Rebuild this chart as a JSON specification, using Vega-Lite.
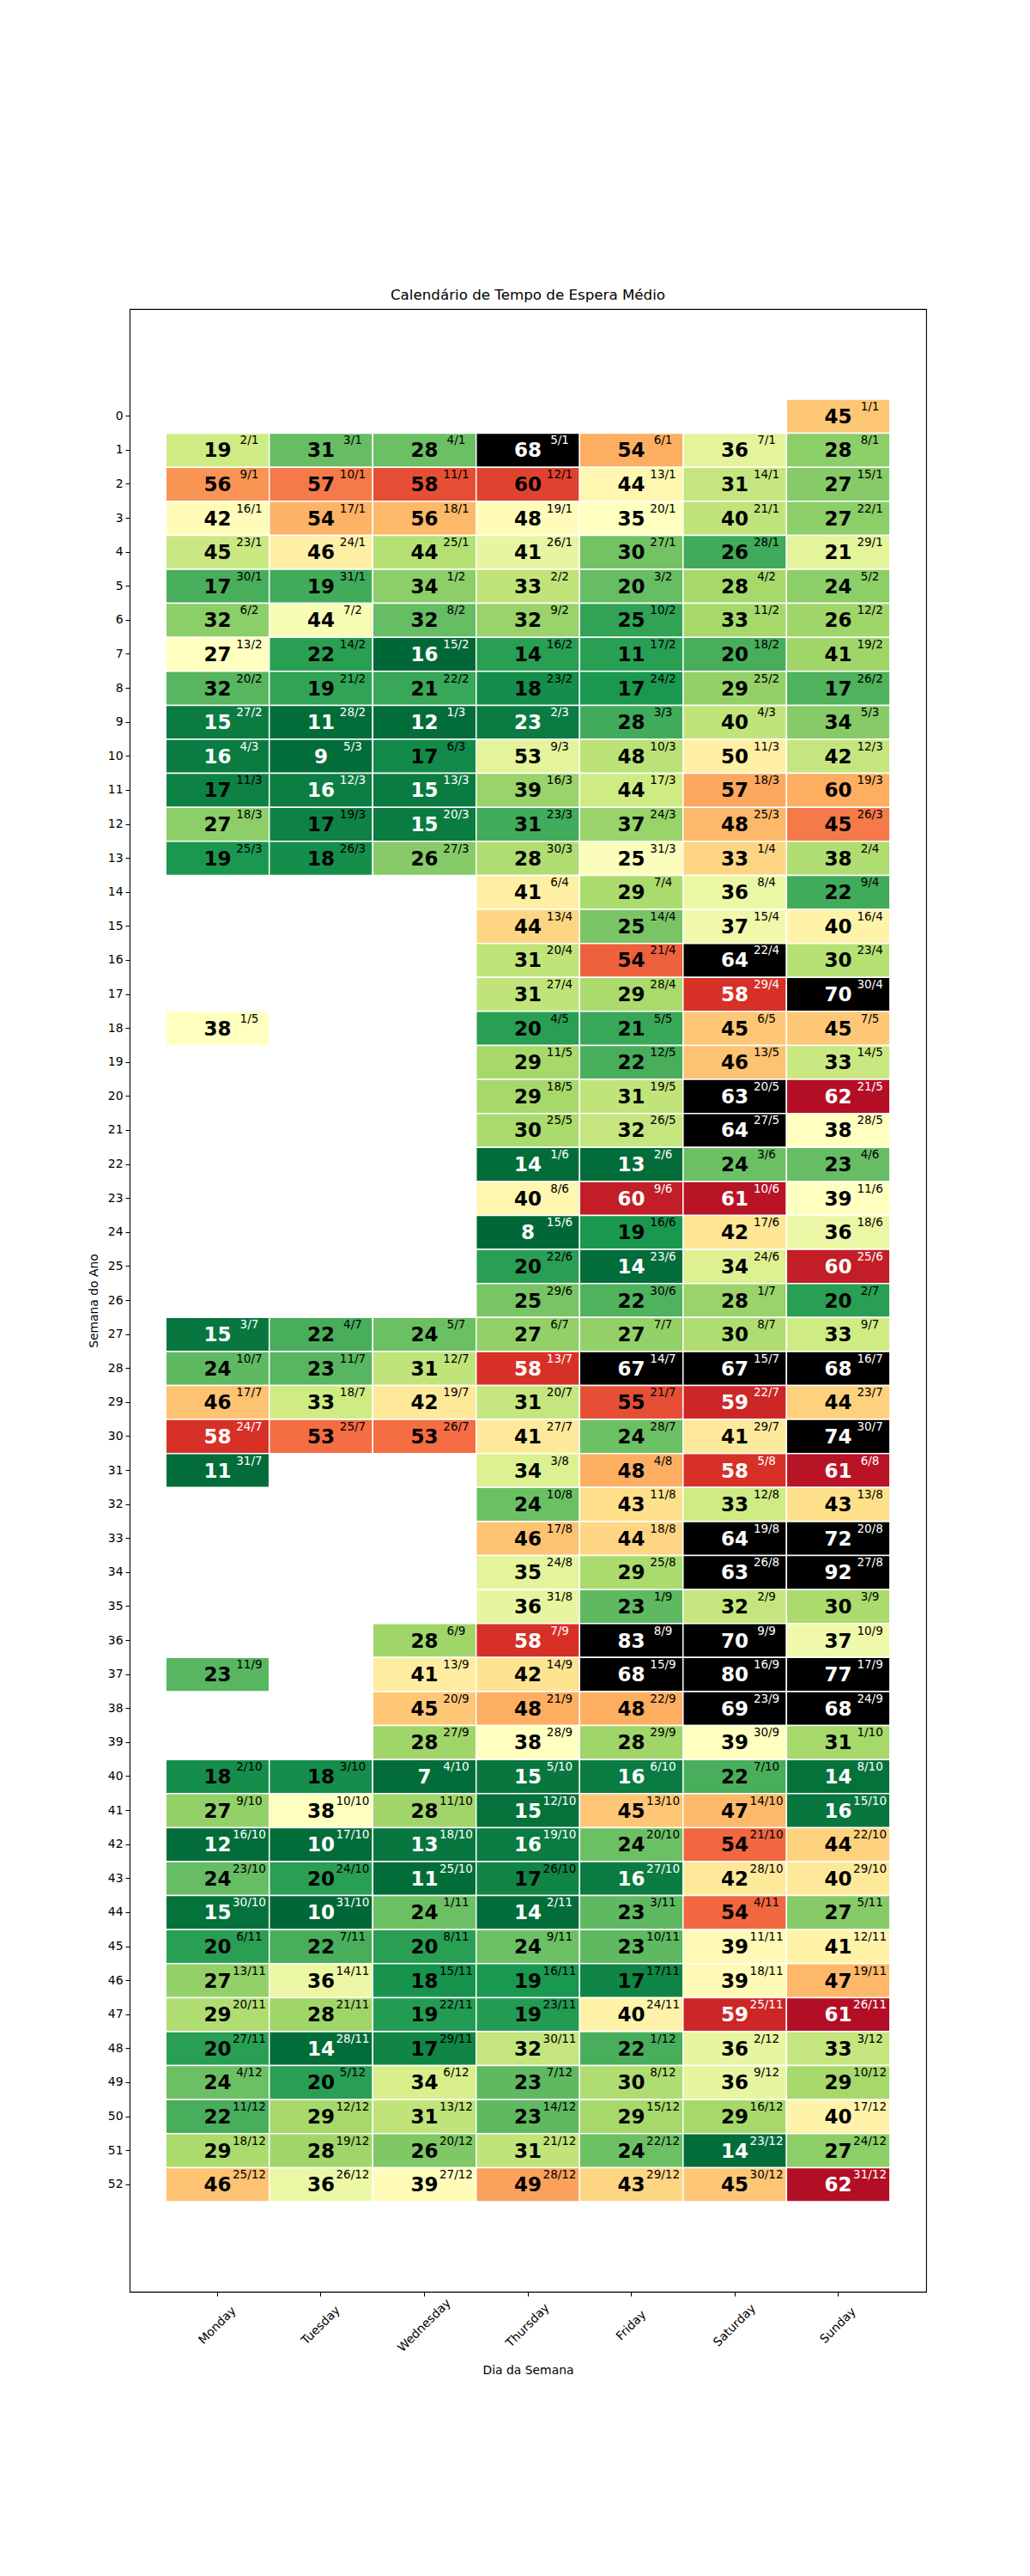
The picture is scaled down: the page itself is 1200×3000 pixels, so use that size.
{
"$schema":"https://vega.github.io/schema/vega-lite/v6.json",
"autosize":{"type":"none"},
"padding":{"left":151,"top":360,"right":121,"bottom":331},
"width":928,"height":2309,
"background":"white",
"title":{"text":"Calendário de Tempo de Espera Médio","fontSize":16.7,"fontWeight":"normal","font":"DejaVu Sans","color":"black","offset":7},
"config":{"font":"DejaVu Sans","view":{"stroke":"black","strokeWidth":1.1},"axis":{"grid":false,"domain":false,"tickColor":"black","tickSize":5,"labelColor":"black","labelFontSize":13.9,"titleColor":"black","titleFontSize":13.9,"titleFontWeight":"normal","labelFont":"DejaVu Sans","titleFont":"DejaVu Sans"}},
"data":{"values":[
{"semana":0,"dia":"Sunday","valor":45,"data":"1/1","indice":0.65},
{"semana":1,"dia":"Monday","valor":19,"data":"2/1","indice":0.38},
{"semana":1,"dia":"Tuesday","valor":31,"data":"3/1","indice":0.2},
{"semana":1,"dia":"Wednesday","valor":28,"data":"4/1","indice":0.21},
{"semana":1,"dia":"Thursday","valor":68,"data":"5/1","indice":1.2},
{"semana":1,"dia":"Friday","valor":54,"data":"6/1","indice":0.7},
{"semana":1,"dia":"Saturday","valor":36,"data":"7/1","indice":0.43},
{"semana":1,"dia":"Sunday","valor":28,"data":"8/1","indice":0.26},
{"semana":2,"dia":"Monday","valor":56,"data":"9/1","indice":0.74},
{"semana":2,"dia":"Tuesday","valor":57,"data":"10/1","indice":0.78},
{"semana":2,"dia":"Wednesday","valor":58,"data":"11/1","indice":0.85},
{"semana":2,"dia":"Thursday","valor":60,"data":"12/1","indice":0.87},
{"semana":2,"dia":"Friday","valor":44,"data":"13/1","indice":0.53},
{"semana":2,"dia":"Saturday","valor":31,"data":"14/1","indice":0.36},
{"semana":2,"dia":"Sunday","valor":27,"data":"15/1","indice":0.25},
{"semana":3,"dia":"Monday","valor":42,"data":"16/1","indice":0.51},
{"semana":3,"dia":"Tuesday","valor":54,"data":"17/1","indice":0.69},
{"semana":3,"dia":"Wednesday","valor":56,"data":"18/1","indice":0.68},
{"semana":3,"dia":"Thursday","valor":48,"data":"19/1","indice":0.51},
{"semana":3,"dia":"Friday","valor":35,"data":"20/1","indice":0.5},
{"semana":3,"dia":"Saturday","valor":40,"data":"21/1","indice":0.35},
{"semana":3,"dia":"Sunday","valor":27,"data":"22/1","indice":0.26},
{"semana":4,"dia":"Monday","valor":45,"data":"23/1","indice":0.37},
{"semana":4,"dia":"Tuesday","valor":46,"data":"24/1","indice":0.55},
{"semana":4,"dia":"Wednesday","valor":44,"data":"25/1","indice":0.33},
{"semana":4,"dia":"Thursday","valor":41,"data":"26/1","indice":0.44},
{"semana":4,"dia":"Friday","valor":30,"data":"27/1","indice":0.22},
{"semana":4,"dia":"Saturday","valor":26,"data":"28/1","indice":0.15},
{"semana":4,"dia":"Sunday","valor":21,"data":"29/1","indice":0.43},
{"semana":5,"dia":"Monday","valor":17,"data":"30/1","indice":0.16},
{"semana":5,"dia":"Tuesday","valor":19,"data":"31/1","indice":0.15},
{"semana":5,"dia":"Wednesday","valor":34,"data":"1/2","indice":0.26},
{"semana":5,"dia":"Thursday","valor":33,"data":"2/2","indice":0.35},
{"semana":5,"dia":"Friday","valor":20,"data":"3/2","indice":0.2},
{"semana":5,"dia":"Saturday","valor":28,"data":"4/2","indice":0.3},
{"semana":5,"dia":"Sunday","valor":24,"data":"5/2","indice":0.26},
{"semana":6,"dia":"Monday","valor":32,"data":"6/2","indice":0.26},
{"semana":6,"dia":"Tuesday","valor":44,"data":"7/2","indice":0.48},
{"semana":6,"dia":"Wednesday","valor":32,"data":"8/2","indice":0.2},
{"semana":6,"dia":"Thursday","valor":32,"data":"9/2","indice":0.28},
{"semana":6,"dia":"Friday","valor":25,"data":"10/2","indice":0.13},
{"semana":6,"dia":"Saturday","valor":33,"data":"11/2","indice":0.3},
{"semana":6,"dia":"Sunday","valor":26,"data":"12/2","indice":0.29},
{"semana":7,"dia":"Monday","valor":27,"data":"13/2","indice":0.5},
{"semana":7,"dia":"Tuesday","valor":22,"data":"14/2","indice":0.12},
{"semana":7,"dia":"Wednesday","valor":16,"data":"15/2","indice":0.0},
{"semana":7,"dia":"Thursday","valor":14,"data":"16/2","indice":0.12},
{"semana":7,"dia":"Friday","valor":11,"data":"17/2","indice":0.12},
{"semana":7,"dia":"Saturday","valor":20,"data":"18/2","indice":0.16},
{"semana":7,"dia":"Sunday","valor":41,"data":"19/2","indice":0.29},
{"semana":8,"dia":"Monday","valor":32,"data":"20/2","indice":0.18},
{"semana":8,"dia":"Tuesday","valor":19,"data":"21/2","indice":0.13},
{"semana":8,"dia":"Wednesday","valor":21,"data":"22/2","indice":0.14},
{"semana":8,"dia":"Thursday","valor":18,"data":"23/2","indice":0.08},
{"semana":8,"dia":"Friday","valor":17,"data":"24/2","indice":0.1},
{"semana":8,"dia":"Saturday","valor":29,"data":"25/2","indice":0.27},
{"semana":8,"dia":"Sunday","valor":17,"data":"26/2","indice":0.17},
{"semana":9,"dia":"Monday","valor":15,"data":"27/2","indice":0.04},
{"semana":9,"dia":"Tuesday","valor":11,"data":"28/2","indice":0.01},
{"semana":9,"dia":"Wednesday","valor":12,"data":"1/3","indice":0.01},
{"semana":9,"dia":"Thursday","valor":23,"data":"2/3","indice":0.04},
{"semana":9,"dia":"Friday","valor":28,"data":"3/3","indice":0.15},
{"semana":9,"dia":"Saturday","valor":40,"data":"4/3","indice":0.35},
{"semana":9,"dia":"Sunday","valor":34,"data":"5/3","indice":0.25},
{"semana":10,"dia":"Monday","valor":16,"data":"4/3","indice":0.04},
{"semana":10,"dia":"Tuesday","valor":9,"data":"5/3","indice":0.01},
{"semana":10,"dia":"Wednesday","valor":17,"data":"6/3","indice":0.07},
{"semana":10,"dia":"Thursday","valor":53,"data":"9/3","indice":0.43},
{"semana":10,"dia":"Friday","valor":48,"data":"10/3","indice":0.34},
{"semana":10,"dia":"Saturday","valor":50,"data":"11/3","indice":0.55},
{"semana":10,"dia":"Sunday","valor":42,"data":"12/3","indice":0.36},
{"semana":11,"dia":"Monday","valor":17,"data":"11/3","indice":0.055},
{"semana":11,"dia":"Tuesday","valor":16,"data":"12/3","indice":0.045},
{"semana":11,"dia":"Wednesday","valor":15,"data":"13/3","indice":0.04},
{"semana":11,"dia":"Thursday","valor":39,"data":"16/3","indice":0.28},
{"semana":11,"dia":"Friday","valor":44,"data":"17/3","indice":0.38},
{"semana":11,"dia":"Saturday","valor":57,"data":"18/3","indice":0.71},
{"semana":11,"dia":"Sunday","valor":60,"data":"19/3","indice":0.7},
{"semana":12,"dia":"Monday","valor":27,"data":"18/3","indice":0.26},
{"semana":12,"dia":"Tuesday","valor":17,"data":"19/3","indice":0.055},
{"semana":12,"dia":"Wednesday","valor":15,"data":"20/3","indice":0.04},
{"semana":12,"dia":"Thursday","valor":31,"data":"23/3","indice":0.15},
{"semana":12,"dia":"Friday","valor":37,"data":"24/3","indice":0.28},
{"semana":12,"dia":"Saturday","valor":48,"data":"25/3","indice":0.68},
{"semana":12,"dia":"Sunday","valor":45,"data":"26/3","indice":0.78},
{"semana":13,"dia":"Monday","valor":19,"data":"25/3","indice":0.1},
{"semana":13,"dia":"Tuesday","valor":18,"data":"26/3","indice":0.08},
{"semana":13,"dia":"Wednesday","valor":26,"data":"27/3","indice":0.25},
{"semana":13,"dia":"Thursday","valor":28,"data":"30/3","indice":0.32},
{"semana":13,"dia":"Friday","valor":25,"data":"31/3","indice":0.49},
{"semana":13,"dia":"Saturday","valor":33,"data":"1/4","indice":0.62},
{"semana":13,"dia":"Sunday","valor":38,"data":"2/4","indice":0.32},
{"semana":14,"dia":"Thursday","valor":41,"data":"6/4","indice":0.55},
{"semana":14,"dia":"Friday","valor":29,"data":"7/4","indice":0.31},
{"semana":14,"dia":"Saturday","valor":36,"data":"8/4","indice":0.45},
{"semana":14,"dia":"Sunday","valor":22,"data":"9/4","indice":0.15},
{"semana":15,"dia":"Thursday","valor":44,"data":"13/4","indice":0.62},
{"semana":15,"dia":"Friday","valor":25,"data":"14/4","indice":0.23},
{"semana":15,"dia":"Saturday","valor":37,"data":"15/4","indice":0.46},
{"semana":15,"dia":"Sunday","valor":40,"data":"16/4","indice":0.54},
{"semana":16,"dia":"Thursday","valor":31,"data":"20/4","indice":0.35},
{"semana":16,"dia":"Friday","valor":54,"data":"21/4","indice":0.82},
{"semana":16,"dia":"Saturday","valor":64,"data":"22/4","indice":1.2},
{"semana":16,"dia":"Sunday","valor":30,"data":"23/4","indice":0.33},
{"semana":17,"dia":"Thursday","valor":31,"data":"27/4","indice":0.35},
{"semana":17,"dia":"Friday","valor":29,"data":"28/4","indice":0.31},
{"semana":17,"dia":"Saturday","valor":58,"data":"29/4","indice":0.9},
{"semana":17,"dia":"Sunday","valor":70,"data":"30/4","indice":1.2},
{"semana":18,"dia":"Monday","valor":38,"data":"1/5","indice":0.5},
{"semana":18,"dia":"Thursday","valor":20,"data":"4/5","indice":0.12},
{"semana":18,"dia":"Friday","valor":21,"data":"5/5","indice":0.14},
{"semana":18,"dia":"Saturday","valor":45,"data":"6/5","indice":0.65},
{"semana":18,"dia":"Sunday","valor":45,"data":"7/5","indice":0.65},
{"semana":19,"dia":"Thursday","valor":29,"data":"11/5","indice":0.3},
{"semana":19,"dia":"Friday","valor":22,"data":"12/5","indice":0.16},
{"semana":19,"dia":"Saturday","valor":46,"data":"13/5","indice":0.66},
{"semana":19,"dia":"Sunday","valor":33,"data":"14/5","indice":0.37},
{"semana":20,"dia":"Thursday","valor":29,"data":"18/5","indice":0.3},
{"semana":20,"dia":"Friday","valor":31,"data":"19/5","indice":0.35},
{"semana":20,"dia":"Saturday","valor":63,"data":"20/5","indice":1.2},
{"semana":20,"dia":"Sunday","valor":62,"data":"21/5","indice":0.97},
{"semana":21,"dia":"Thursday","valor":30,"data":"25/5","indice":0.31},
{"semana":21,"dia":"Friday","valor":32,"data":"26/5","indice":0.36},
{"semana":21,"dia":"Saturday","valor":64,"data":"27/5","indice":1.2},
{"semana":21,"dia":"Sunday","valor":38,"data":"28/5","indice":0.5},
{"semana":22,"dia":"Thursday","valor":14,"data":"1/6","indice":0.01},
{"semana":22,"dia":"Friday","valor":13,"data":"2/6","indice":0.01},
{"semana":22,"dia":"Saturday","valor":24,"data":"3/6","indice":0.21},
{"semana":22,"dia":"Sunday","valor":23,"data":"4/6","indice":0.2},
{"semana":23,"dia":"Thursday","valor":40,"data":"8/6","indice":0.53},
{"semana":23,"dia":"Friday","valor":60,"data":"9/6","indice":0.94},
{"semana":23,"dia":"Saturday","valor":61,"data":"10/6","indice":0.96},
{"semana":23,"dia":"Sunday","valor":39,"data":"11/6","indice":0.5},
{"semana":24,"dia":"Thursday","valor":8,"data":"15/6","indice":0.0},
{"semana":24,"dia":"Friday","valor":19,"data":"16/6","indice":0.1},
{"semana":24,"dia":"Saturday","valor":42,"data":"17/6","indice":0.58},
{"semana":24,"dia":"Sunday","valor":36,"data":"18/6","indice":0.45},
{"semana":25,"dia":"Thursday","valor":20,"data":"22/6","indice":0.12},
{"semana":25,"dia":"Friday","valor":14,"data":"23/6","indice":0.01},
{"semana":25,"dia":"Saturday","valor":34,"data":"24/6","indice":0.41},
{"semana":25,"dia":"Sunday","valor":60,"data":"25/6","indice":0.94},
{"semana":26,"dia":"Thursday","valor":25,"data":"29/6","indice":0.23},
{"semana":26,"dia":"Friday","valor":22,"data":"30/6","indice":0.17},
{"semana":26,"dia":"Saturday","valor":28,"data":"1/7","indice":0.28},
{"semana":26,"dia":"Sunday","valor":20,"data":"2/7","indice":0.12},
{"semana":27,"dia":"Monday","valor":15,"data":"3/7","indice":0.03},
{"semana":27,"dia":"Tuesday","valor":22,"data":"4/7","indice":0.16},
{"semana":27,"dia":"Wednesday","valor":24,"data":"5/7","indice":0.21},
{"semana":27,"dia":"Thursday","valor":27,"data":"6/7","indice":0.27},
{"semana":27,"dia":"Friday","valor":27,"data":"7/7","indice":0.27},
{"semana":27,"dia":"Saturday","valor":30,"data":"8/7","indice":0.32},
{"semana":27,"dia":"Sunday","valor":33,"data":"9/7","indice":0.38},
{"semana":28,"dia":"Monday","valor":24,"data":"10/7","indice":0.19},
{"semana":28,"dia":"Tuesday","valor":23,"data":"11/7","indice":0.18},
{"semana":28,"dia":"Wednesday","valor":31,"data":"12/7","indice":0.35},
{"semana":28,"dia":"Thursday","valor":58,"data":"13/7","indice":0.9},
{"semana":28,"dia":"Friday","valor":67,"data":"14/7","indice":1.2},
{"semana":28,"dia":"Saturday","valor":67,"data":"15/7","indice":1.2},
{"semana":28,"dia":"Sunday","valor":68,"data":"16/7","indice":1.2},
{"semana":29,"dia":"Monday","valor":46,"data":"17/7","indice":0.66},
{"semana":29,"dia":"Tuesday","valor":33,"data":"18/7","indice":0.38},
{"semana":29,"dia":"Wednesday","valor":42,"data":"19/7","indice":0.57},
{"semana":29,"dia":"Thursday","valor":31,"data":"20/7","indice":0.36},
{"semana":29,"dia":"Friday","valor":55,"data":"21/7","indice":0.85},
{"semana":29,"dia":"Saturday","valor":59,"data":"22/7","indice":0.92},
{"semana":29,"dia":"Sunday","valor":44,"data":"23/7","indice":0.63},
{"semana":30,"dia":"Monday","valor":58,"data":"24/7","indice":0.9},
{"semana":30,"dia":"Tuesday","valor":53,"data":"25/7","indice":0.8},
{"semana":30,"dia":"Wednesday","valor":53,"data":"26/7","indice":0.8},
{"semana":30,"dia":"Thursday","valor":41,"data":"27/7","indice":0.57},
{"semana":30,"dia":"Friday","valor":24,"data":"28/7","indice":0.21},
{"semana":30,"dia":"Saturday","valor":41,"data":"29/7","indice":0.57},
{"semana":30,"dia":"Sunday","valor":74,"data":"30/7","indice":1.2},
{"semana":31,"dia":"Monday","valor":11,"data":"31/7","indice":0.01},
{"semana":31,"dia":"Thursday","valor":34,"data":"3/8","indice":0.41},
{"semana":31,"dia":"Friday","valor":48,"data":"4/8","indice":0.7},
{"semana":31,"dia":"Saturday","valor":58,"data":"5/8","indice":0.9},
{"semana":31,"dia":"Sunday","valor":61,"data":"6/8","indice":0.96},
{"semana":32,"dia":"Thursday","valor":24,"data":"10/8","indice":0.21},
{"semana":32,"dia":"Friday","valor":43,"data":"11/8","indice":0.6},
{"semana":32,"dia":"Saturday","valor":33,"data":"12/8","indice":0.38},
{"semana":32,"dia":"Sunday","valor":43,"data":"13/8","indice":0.6},
{"semana":33,"dia":"Thursday","valor":46,"data":"17/8","indice":0.66},
{"semana":33,"dia":"Friday","valor":44,"data":"18/8","indice":0.62},
{"semana":33,"dia":"Saturday","valor":64,"data":"19/8","indice":1.2},
{"semana":33,"dia":"Sunday","valor":72,"data":"20/8","indice":1.2},
{"semana":34,"dia":"Thursday","valor":35,"data":"24/8","indice":0.43},
{"semana":34,"dia":"Friday","valor":29,"data":"25/8","indice":0.31},
{"semana":34,"dia":"Saturday","valor":63,"data":"26/8","indice":1.2},
{"semana":34,"dia":"Sunday","valor":92,"data":"27/8","indice":1.2},
{"semana":35,"dia":"Thursday","valor":36,"data":"31/8","indice":0.44},
{"semana":35,"dia":"Friday","valor":23,"data":"1/9","indice":0.19},
{"semana":35,"dia":"Saturday","valor":32,"data":"2/9","indice":0.36},
{"semana":35,"dia":"Sunday","valor":30,"data":"3/9","indice":0.31},
{"semana":36,"dia":"Wednesday","valor":28,"data":"6/9","indice":0.29},
{"semana":36,"dia":"Thursday","valor":58,"data":"7/9","indice":0.9},
{"semana":36,"dia":"Friday","valor":83,"data":"8/9","indice":1.2},
{"semana":36,"dia":"Saturday","valor":70,"data":"9/9","indice":1.2},
{"semana":36,"dia":"Sunday","valor":37,"data":"10/9","indice":0.46},
{"semana":37,"dia":"Monday","valor":23,"data":"11/9","indice":0.18},
{"semana":37,"dia":"Wednesday","valor":41,"data":"13/9","indice":0.56},
{"semana":37,"dia":"Thursday","valor":42,"data":"14/9","indice":0.59},
{"semana":37,"dia":"Friday","valor":68,"data":"15/9","indice":1.2},
{"semana":37,"dia":"Saturday","valor":80,"data":"16/9","indice":1.2},
{"semana":37,"dia":"Sunday","valor":77,"data":"17/9","indice":1.2},
{"semana":38,"dia":"Wednesday","valor":45,"data":"20/9","indice":0.65},
{"semana":38,"dia":"Thursday","valor":48,"data":"21/9","indice":0.7},
{"semana":38,"dia":"Friday","valor":48,"data":"22/9","indice":0.7},
{"semana":38,"dia":"Saturday","valor":69,"data":"23/9","indice":1.2},
{"semana":38,"dia":"Sunday","valor":68,"data":"24/9","indice":1.2},
{"semana":39,"dia":"Wednesday","valor":28,"data":"27/9","indice":0.29},
{"semana":39,"dia":"Thursday","valor":38,"data":"28/9","indice":0.5},
{"semana":39,"dia":"Friday","valor":28,"data":"29/9","indice":0.29},
{"semana":39,"dia":"Saturday","valor":39,"data":"30/9","indice":0.5},
{"semana":39,"dia":"Sunday","valor":31,"data":"1/10","indice":0.3},
{"semana":40,"dia":"Monday","valor":18,"data":"2/10","indice":0.08},
{"semana":40,"dia":"Tuesday","valor":18,"data":"3/10","indice":0.08},
{"semana":40,"dia":"Wednesday","valor":7,"data":"4/10","indice":0.01},
{"semana":40,"dia":"Thursday","valor":15,"data":"5/10","indice":0.03},
{"semana":40,"dia":"Friday","valor":16,"data":"6/10","indice":0.04},
{"semana":40,"dia":"Saturday","valor":22,"data":"7/10","indice":0.16},
{"semana":40,"dia":"Sunday","valor":14,"data":"8/10","indice":0.02},
{"semana":41,"dia":"Monday","valor":27,"data":"9/10","indice":0.27},
{"semana":41,"dia":"Tuesday","valor":38,"data":"10/10","indice":0.5},
{"semana":41,"dia":"Wednesday","valor":28,"data":"11/10","indice":0.29},
{"semana":41,"dia":"Thursday","valor":15,"data":"12/10","indice":0.02},
{"semana":41,"dia":"Friday","valor":45,"data":"13/10","indice":0.65},
{"semana":41,"dia":"Saturday","valor":47,"data":"14/10","indice":0.68},
{"semana":41,"dia":"Sunday","valor":16,"data":"15/10","indice":0.03},
{"semana":42,"dia":"Monday","valor":12,"data":"16/10","indice":0.01},
{"semana":42,"dia":"Tuesday","valor":10,"data":"17/10","indice":0.01},
{"semana":42,"dia":"Wednesday","valor":13,"data":"18/10","indice":0.03},
{"semana":42,"dia":"Thursday","valor":16,"data":"19/10","indice":0.04},
{"semana":42,"dia":"Friday","valor":24,"data":"20/10","indice":0.21},
{"semana":42,"dia":"Saturday","valor":54,"data":"21/10","indice":0.81},
{"semana":42,"dia":"Sunday","valor":44,"data":"22/10","indice":0.63},
{"semana":43,"dia":"Monday","valor":24,"data":"23/10","indice":0.2},
{"semana":43,"dia":"Tuesday","valor":20,"data":"24/10","indice":0.12},
{"semana":43,"dia":"Wednesday","valor":11,"data":"25/10","indice":0.01},
{"semana":43,"dia":"Thursday","valor":17,"data":"26/10","indice":0.06},
{"semana":43,"dia":"Friday","valor":16,"data":"27/10","indice":0.04},
{"semana":43,"dia":"Saturday","valor":42,"data":"28/10","indice":0.57},
{"semana":43,"dia":"Sunday","valor":40,"data":"29/10","indice":0.57},
{"semana":44,"dia":"Monday","valor":15,"data":"30/10","indice":0.02},
{"semana":44,"dia":"Tuesday","valor":10,"data":"31/10","indice":0.0},
{"semana":44,"dia":"Wednesday","valor":24,"data":"1/11","indice":0.21},
{"semana":44,"dia":"Thursday","valor":14,"data":"2/11","indice":0.01},
{"semana":44,"dia":"Friday","valor":23,"data":"3/11","indice":0.19},
{"semana":44,"dia":"Saturday","valor":54,"data":"4/11","indice":0.81},
{"semana":44,"dia":"Sunday","valor":27,"data":"5/11","indice":0.25},
{"semana":45,"dia":"Monday","valor":20,"data":"6/11","indice":0.12},
{"semana":45,"dia":"Tuesday","valor":22,"data":"7/11","indice":0.16},
{"semana":45,"dia":"Wednesday","valor":20,"data":"8/11","indice":0.12},
{"semana":45,"dia":"Thursday","valor":24,"data":"9/11","indice":0.21},
{"semana":45,"dia":"Friday","valor":23,"data":"10/11","indice":0.19},
{"semana":45,"dia":"Saturday","valor":39,"data":"11/11","indice":0.52},
{"semana":45,"dia":"Sunday","valor":41,"data":"12/11","indice":0.54},
{"semana":46,"dia":"Monday","valor":27,"data":"13/11","indice":0.27},
{"semana":46,"dia":"Tuesday","valor":36,"data":"14/11","indice":0.45},
{"semana":46,"dia":"Wednesday","valor":18,"data":"15/11","indice":0.09},
{"semana":46,"dia":"Thursday","valor":19,"data":"16/11","indice":0.1},
{"semana":46,"dia":"Friday","valor":17,"data":"17/11","indice":0.06},
{"semana":46,"dia":"Saturday","valor":39,"data":"18/11","indice":0.52},
{"semana":46,"dia":"Sunday","valor":47,"data":"19/11","indice":0.68},
{"semana":47,"dia":"Monday","valor":29,"data":"20/11","indice":0.32},
{"semana":47,"dia":"Tuesday","valor":28,"data":"21/11","indice":0.29},
{"semana":47,"dia":"Wednesday","valor":19,"data":"22/11","indice":0.11},
{"semana":47,"dia":"Thursday","valor":19,"data":"23/11","indice":0.11},
{"semana":47,"dia":"Friday","valor":40,"data":"24/11","indice":0.54},
{"semana":47,"dia":"Saturday","valor":59,"data":"25/11","indice":0.92},
{"semana":47,"dia":"Sunday","valor":61,"data":"26/11","indice":0.97},
{"semana":48,"dia":"Monday","valor":20,"data":"27/11","indice":0.12},
{"semana":48,"dia":"Tuesday","valor":14,"data":"28/11","indice":0.01},
{"semana":48,"dia":"Wednesday","valor":17,"data":"29/11","indice":0.06},
{"semana":48,"dia":"Thursday","valor":32,"data":"30/11","indice":0.36},
{"semana":48,"dia":"Friday","valor":22,"data":"1/12","indice":0.16},
{"semana":48,"dia":"Saturday","valor":36,"data":"2/12","indice":0.44},
{"semana":48,"dia":"Sunday","valor":33,"data":"3/12","indice":0.36},
{"semana":49,"dia":"Monday","valor":24,"data":"4/12","indice":0.21},
{"semana":49,"dia":"Tuesday","valor":20,"data":"5/12","indice":0.12},
{"semana":49,"dia":"Wednesday","valor":34,"data":"6/12","indice":0.4},
{"semana":49,"dia":"Thursday","valor":23,"data":"7/12","indice":0.19},
{"semana":49,"dia":"Friday","valor":30,"data":"8/12","indice":0.32},
{"semana":49,"dia":"Saturday","valor":36,"data":"9/12","indice":0.44},
{"semana":49,"dia":"Sunday","valor":29,"data":"10/12","indice":0.3},
{"semana":50,"dia":"Monday","valor":22,"data":"11/12","indice":0.16},
{"semana":50,"dia":"Tuesday","valor":29,"data":"12/12","indice":0.3},
{"semana":50,"dia":"Wednesday","valor":31,"data":"13/12","indice":0.35},
{"semana":50,"dia":"Thursday","valor":23,"data":"14/12","indice":0.19},
{"semana":50,"dia":"Friday","valor":29,"data":"15/12","indice":0.3},
{"semana":50,"dia":"Saturday","valor":29,"data":"16/12","indice":0.3},
{"semana":50,"dia":"Sunday","valor":40,"data":"17/12","indice":0.54},
{"semana":51,"dia":"Monday","valor":29,"data":"18/12","indice":0.31},
{"semana":51,"dia":"Tuesday","valor":28,"data":"19/12","indice":0.29},
{"semana":51,"dia":"Wednesday","valor":26,"data":"20/12","indice":0.24},
{"semana":51,"dia":"Thursday","valor":31,"data":"21/12","indice":0.35},
{"semana":51,"dia":"Friday","valor":24,"data":"22/12","indice":0.21},
{"semana":51,"dia":"Saturday","valor":14,"data":"23/12","indice":0.01},
{"semana":51,"dia":"Sunday","valor":27,"data":"24/12","indice":0.26},
{"semana":52,"dia":"Monday","valor":46,"data":"25/12","indice":0.66},
{"semana":52,"dia":"Tuesday","valor":36,"data":"26/12","indice":0.45},
{"semana":52,"dia":"Wednesday","valor":39,"data":"27/12","indice":0.51},
{"semana":52,"dia":"Thursday","valor":49,"data":"28/12","indice":0.72},
{"semana":52,"dia":"Friday","valor":43,"data":"29/12","indice":0.62},
{"semana":52,"dia":"Saturday","valor":45,"data":"30/12","indice":0.65},
{"semana":52,"dia":"Sunday","valor":62,"data":"31/12","indice":0.97}
]},
"encoding":{
"x":{"field":"dia","type":"nominal","scale":{"domain":["Monday","Tuesday","Wednesday","Thursday","Friday","Saturday","Sunday"],"paddingInner":0,"paddingOuter":0.35},"axis":{"title":"Dia da Semana","labelAngle":-45,"labelAlign":"center","labelBaseline":"middle","labelPadding":34,"titlePadding":12}},
"y":{"field":"semana","type":"ordinal","scale":{"domain":[-2,-1,0,1,2,3,4,5,6,7,8,9,10,11,12,13,14,15,16,17,18,19,20,21,22,23,24,25,26,27,28,29,30,31,32,33,34,35,36,37,38,39,40,41,42,43,44,45,46,47,48,49,50,51,52,53,54],"paddingInner":0,"paddingOuter":0.65},"axis":{"title":"Semana do Ano","labelPadding":3,"titlePadding":9,"values":[0,1,2,3,4,5,6,7,8,9,10,11,12,13,14,15,16,17,18,19,20,21,22,23,24,25,26,27,28,29,30,31,32,33,34,35,36,37,38,39,40,41,42,43,44,45,46,47,48,49,50,51,52]}}
},
"layer":[
{"mark":{"type":"rect","stroke":"white","strokeWidth":1.5},
 "encoding":{"color":{"condition":{"test":"datum.indice > 1","value":"black"},"field":"indice","type":"quantitative","scale":{"domain":[0,0.1,0.2,0.3,0.4,0.5,0.6,0.7,0.8,0.9,1.0],"range":["#006837","#1a9850","#66bd63","#a6d96a","#d9ef8b","#ffffbf","#fee08b","#fdae61","#f46d43","#d73027","#a50026"],"interpolate":"rgb","clamp":true},"legend":null}}},
{"mark":{"type":"text","fontSize":23,"fontWeight":"bold","font":"DejaVu Sans","align":"center","baseline":"middle","dy":1},
 "encoding":{"text":{"field":"valor","type":"quantitative"},"color":{"condition":{"test":"datum.indice < 0.05 || datum.indice > 0.88","value":"white"},"value":"black"}}},
{"mark":{"type":"text","fontSize":13.5,"font":"DejaVu Sans","align":"center","baseline":"middle","dx":37,"dy":-11},
 "encoding":{"text":{"field":"data","type":"nominal"},"color":{"condition":{"test":"datum.indice < 0.05 || datum.indice > 0.88","value":"white"},"value":"black"}}}
]
}
